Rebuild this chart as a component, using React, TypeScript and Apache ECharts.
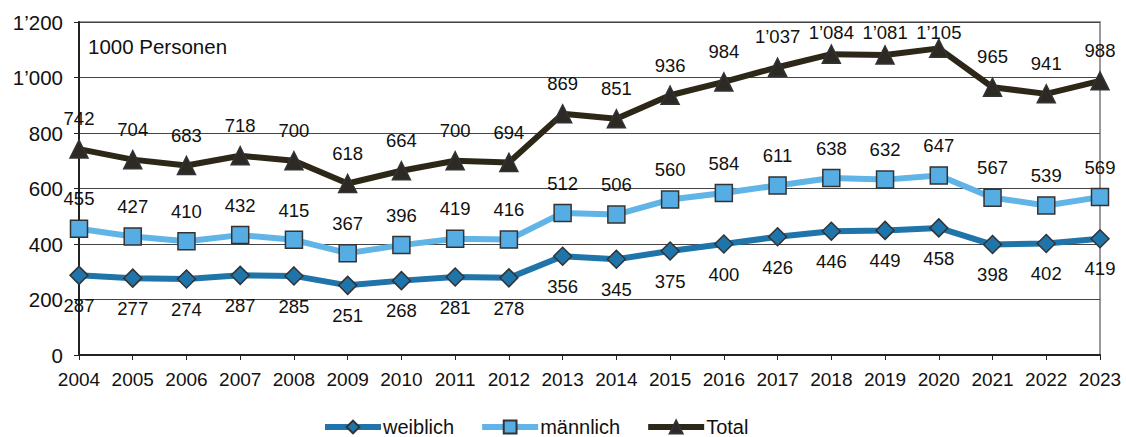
import React, { useEffect, useRef } from "react";
import * as echarts from "echarts";

const years = ["2004","2005","2006","2007","2008","2009","2010","2011","2012","2013","2014","2015","2016","2017","2018","2019","2020","2021","2022","2023"];
const weiblich = [287,277,274,287,285,251,268,281,278,356,345,375,400,426,446,449,458,398,402,419];
const maennlich = [455,427,410,432,415,367,396,419,416,512,506,560,584,611,638,632,647,567,539,569];
const total = [742,704,683,718,700,618,664,700,694,869,851,936,984,1037,1084,1081,1105,965,941,988];

const fmt = (v: number) => {
  const s = String(Math.round(v));
  return s.length > 3 ? s.slice(0, s.length - 3) + "\u2019" + s.slice(s.length - 3) : s;
};

const FONT = "Liberation Sans, Arial, sans-serif";

export default function App() {
  const ref = useRef<HTMLDivElement>(null);
  useEffect(() => {
    if (!ref.current) return;
    document.body.style.margin = "0";
    const chart = echarts.init(ref.current, null, { renderer: "svg" });
    const mk = (name: string, data: number[], color: string, symbol: string, symColor: string, pos: string, size: number) => ({
      name,
      type: "line",
      data,
      symbol,
      symbolSize: size,
      lineStyle: { color, width: 6 },
      itemStyle: { color: symColor, borderColor: "#333333", borderWidth: 1.5 },
      label: {
        show: true,
        position: pos,
        distance: 11,
        color: "#111",
        fontSize: 18.5,
        fontFamily: FONT,
        formatter: (p: any) => fmt(p.value),
      },
      labelLayout: (p: any) => {
        const r = p.labelRect;
        if (r && r.y < 22) {
          return { x: r.x, y: 23, align: "left", verticalAlign: "top" };
        }
        return {};
      },
      z: 3,
    });
    chart.setOption({
      animation: false,
      textStyle: { fontFamily: FONT },
      grid: { left: 79, right: 26, top: 22, bottom: 82, show: true, borderColor: "#999", borderWidth: 2, containLabel: false },
      graphic: [
        { type: "text", left: 88, top: 36, style: { text: "1000 Personen", fontSize: 20.5, fontFamily: FONT, fill: "#111" } },
      ],
      legend: {
        top: 412,
        left: 317,
        itemWidth: 56,
        itemHeight: 16,
        itemGap: 25,
        lineStyle: { width: 6 },
        textStyle: { fontSize: 20, lineHeight: 18, fontFamily: FONT, color: "#111", padding: [0, 0, 0, -3] },
        data: ["weiblich", "männlich", "Total"],
      },
      xAxis: {
        type: "category",
        data: years,
        boundaryGap: false,
        axisLine: { lineStyle: { color: "#222", width: 2 } },
        axisTick: { show: true, length: 5, interval: 0, lineStyle: { color: "#222" } },
        axisLabel: { fontSize: 19, interval: 0, color: "#111", fontFamily: FONT, margin: 15 },
        splitLine: { show: false },
      },
      yAxis: {
        type: "value",
        min: 0,
        max: 1200,
        interval: 200,
        axisLine: { show: true, lineStyle: { color: "#222", width: 2 } },
        axisTick: { show: true, length: 5, lineStyle: { color: "#222" } },
        axisLabel: { fontSize: 20.5, color: "#111", fontFamily: FONT, margin: 16, formatter: (v: number) => fmt(v) },
        splitLine: { show: true, lineStyle: { color: "#444", width: 1 } },
      },
      series: [
        mk("weiblich", weiblich, "#1f74aa", "diamond", "#1f74aa", "bottom", 18),
        mk("männlich", maennlich, "#60b4e6", "rect", "#55ade3", "top", 17),
        mk("Total", total, "#2d2718", "triangle", "#2d2a25", "top", 18),
      ],
    });
    return () => chart.dispose();
  }, []);
  return <div ref={ref} style={{ width: 1126, height: 437 }} />;
}
